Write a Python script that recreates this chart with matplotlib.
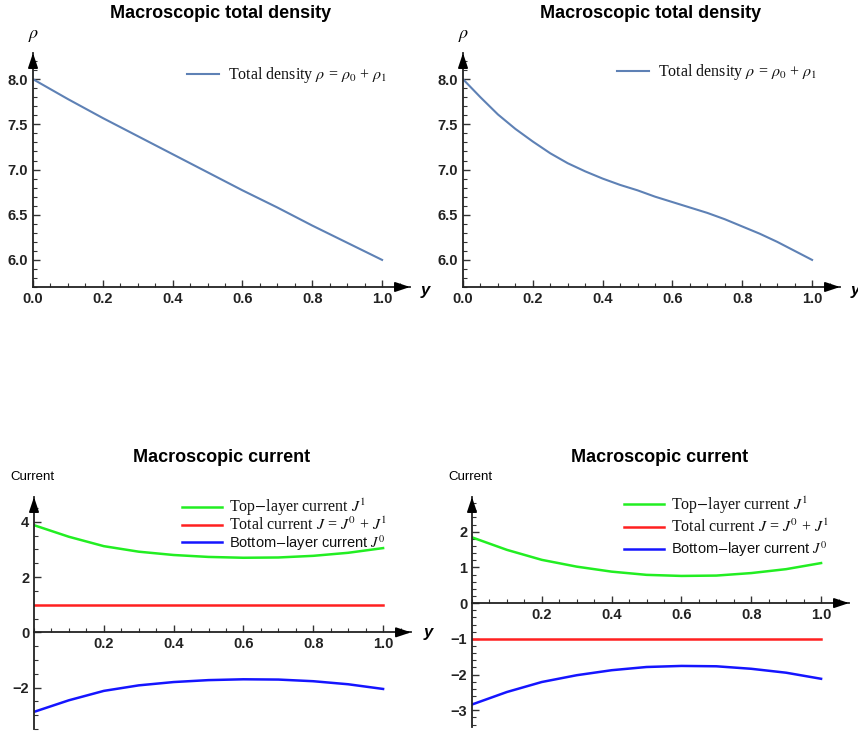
import matplotlib
matplotlib.use('Agg')
import matplotlib.pyplot as plt
from matplotlib.ticker import MultipleLocator, FixedLocator

plt.rcParams['font.family'] = ['Liberation Sans', 'DejaVu Sans']
plt.rcParams['mathtext.fontset'] = 'stix'

# Данные
y_lin = [0.0, 0.1, 0.2, 0.3, 0.4, 0.5, 0.6, 0.7, 0.8, 0.9, 1.0]
rho_left = [8.0, 7.78, 7.57, 7.37, 7.17, 6.97, 6.77, 6.58, 6.38, 6.19, 6.0]

y_fine = [0.0, 0.05, 0.1, 0.15, 0.2, 0.25, 0.3, 0.35, 0.4, 0.45, 0.5,
          0.55, 0.6, 0.65, 0.7, 0.75, 0.8, 0.85, 0.9, 0.95, 1.0]
rho_right = [8.0, 7.8, 7.61, 7.45, 7.31, 7.18, 7.07, 6.98, 6.90, 6.83, 6.77,
             6.70, 6.64, 6.58, 6.52, 6.45, 6.37, 6.29, 6.20, 6.10, 6.0]

top_left = [3.88, 3.46, 3.12, 2.92, 2.80, 2.73, 2.70, 2.71, 2.77, 2.88, 3.05]
total_left = [1.0] * 11
bottom_left = [-2.88, -2.46, -2.12, -1.92, -1.80, -1.73, -1.70, -1.71, -1.77, -1.88, -2.05]

top_right = [1.84, 1.49, 1.21, 1.02, 0.88, 0.79, 0.76, 0.77, 0.84, 0.95, 1.12]
total_right = [-1.0] * 11
bottom_right = [-2.84, -2.49, -2.21, -2.02, -1.88, -1.79, -1.76, -1.77, -1.84, -1.95, -2.12]

W, H = 858, 733
fig = plt.figure(figsize=(W / 100, H / 100), dpi=100)


def px_axes(x0, y_top, x1, y_bot):
    return fig.add_axes([x0 / W, 1 - y_bot / H, (x1 - x0) / W, (y_bot - y_top) / H])


def style(ax, axis_y, xmajor_labels):
    for s in ['top', 'right']:
        ax.spines[s].set_visible(False)
    for s in ['left', 'bottom']:
        ax.spines[s].set_color('#222222')
        ax.spines[s].set_linewidth(1.3)
    if axis_y is not None:
        ax.spines['bottom'].set_position(('data', axis_y))
    ax.xaxis.set_major_locator(FixedLocator(xmajor_labels))
    ax.xaxis.set_minor_locator(MultipleLocator(0.05))
    ax.tick_params(which='both', direction='in', color='#333333', labelsize=10.5,
                   labelcolor='#222222')
    ax.tick_params(which='major', length=5, width=1)
    ax.tick_params(which='minor', length=3, width=0.8)
    for lab in ax.get_xticklabels() + ax.get_yticklabels():
        lab.set_fontweight('bold')
    # стрелки на концах осей
    xt = 'axes fraction' if axis_y is None else ax.get_yaxis_transform()
    yb = 0 if axis_y is None else axis_y
    ax.annotate('', xy=(1, yb), xycoords=xt, xytext=(-14, 0), textcoords='offset pixels',
                arrowprops=dict(arrowstyle='-|>,head_length=0.9,head_width=0.3',
                                color='black', lw=1.2, shrinkA=0, shrinkB=0))
    ax.annotate('', xy=(0, 1), xycoords='axes fraction', xytext=(0, -14), textcoords='offset pixels',
                arrowprops=dict(arrowstyle='-|>,head_length=0.9,head_width=0.3',
                                color='black', lw=1.2, shrinkA=0, shrinkB=0))


def fmt_ticks(ax):
    ax.xaxis.set_major_formatter(plt.FuncFormatter(lambda v, p: f'{v:.1f}'))


# Верхние графики: плотность
for x0, rho, xs in [(33, rho_left, y_lin), (463, rho_right, y_fine)]:
    ax = px_axes(x0, 53, x0 + 377, 287)
    ax.plot(xs, rho, color='#5E81B5', lw=1.5, label=r'Total density $\rho$ = $\rho_0$ + $\rho_1$')
    ax.set_xlim(0, 1.08)
    ax.set_ylim(5.70, 8.29)
    ax.yaxis.set_major_locator(MultipleLocator(0.5))
    ax.yaxis.set_minor_locator(MultipleLocator(0.1))
    ax.yaxis.set_major_formatter(plt.FuncFormatter(lambda v, p: f'{v:.1f}'))
    fmt_ticks(ax)
    style(ax, None, [0.0, 0.2, 0.4, 0.6, 0.8, 1.0])
    leg = ax.legend(loc='upper left', bbox_to_anchor=(0.408, 0.947 if x0 < 400 else 0.96),
                    frameon=False, borderpad=0, borderaxespad=0, handlelength=2.0,
                    handletextpad=0.6, prop={'family': 'Liberation Serif', 'size': 11.5})
    for t in leg.get_texts():
        t.set_color('#111111')
    fig.text((x0 + 188) / W, 1 - 14 / H, 'Macroscopic total density', ha='center', va='center',
             fontsize=13, fontweight='bold')
    fig.text((x0 - 5) / W, 1 - 36 / H, r'$\rho$', ha='left', va='center', fontsize=13,
             fontweight='bold')
    fig.text((x0 + 392) / W, 1 - 290 / H, 'y', ha='center', va='center', fontsize=12,
             fontweight='bold', style='italic')

# Нижние графики: токи
panels = [
    (34, 729, -3.5, 4.9, top_left, total_left, bottom_left, 2, 0.5, 0.393, 1.0, -0.08),
    (472, 727, -3.47, 2.97, top_right, total_right, bottom_right, 1, 0.2, 0.403, 1.01, 0.2),
]
for x0, ybot, lo, hi, g, r, b, major, minor, lx, ly, lsp in panels:
    ax = px_axes(x0, 497, x0 + 377, ybot)
    ax.plot(y_lin, g, color='#22EE22', lw=1.8, label=r'Top$-$layer current $J^1$')
    ax.plot(y_lin, r, color='#FF2020', lw=1.8, label=r'Total current $J$ = $J^0$ + $J^1$')
    ax.plot(y_lin, b, color='#1515FF', lw=1.8, label=r'Bottom$-$layer current $J^0$')
    ax.set_xlim(0, 1.08)
    ax.set_ylim(lo, hi)
    ax.yaxis.set_major_locator(MultipleLocator(major))
    ax.yaxis.set_minor_locator(MultipleLocator(minor))
    ax.yaxis.set_major_formatter(plt.FuncFormatter(lambda v, p: f'{v:.0f}'.replace('-', '\u2212')))
    fmt_ticks(ax)
    style(ax, 0, [0.2, 0.4, 0.6, 0.8, 1.0])
    leg = ax.legend(loc='upper left', bbox_to_anchor=(lx, ly), frameon=False, borderpad=0,
                    borderaxespad=0, handlelength=2.5, handletextpad=0.45, labelspacing=lsp,
                    prop={'family': 'Liberation Serif', 'size': 11.5})
    texts = leg.get_texts()
    texts[2].set_family('Liberation Sans')
    texts[2].set_size(10.5)
    for t in texts:
        t.set_color('#111111')
    fig.text((x0 + 188) / W, 1 - 458 / H, 'Macroscopic current', ha='center', va='center',
             fontsize=13, fontweight='bold')
    fig.text((x0 - 24) / W, 1 - 477 / H, 'Current', ha='left', va='center', fontsize=9.5)
    if x0 < 400:
        fig.text((x0 + 394) / W, 1 - 632 / H, 'y', ha='center', va='center', fontsize=12,
                 fontweight='bold', style='italic')

fig.savefig('out.png', dpi=100)
